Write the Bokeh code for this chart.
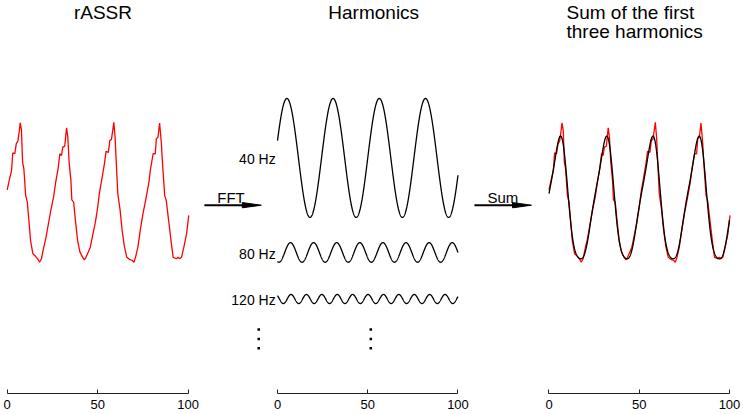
import numpy as np
from bokeh.plotting import figure
from bokeh.layouts import row
from bokeh.models import Range1d, FixedTicker, Label, LinearAxis
from bokeh.embed import file_html
from bokeh.resources import INLINE

# ---------------- data ----------------
# rASSR waveform: sample index and amplitude (arbitrary units)
RASSR_X = [0, 1.3, 2.4, 3.1, 4.2, 5.0, 5.9, 6.7, 7.2, 7.9,
           8.5, 9.2, 10.2, 11.1, 12.0, 12.9, 14.2, 15.7, 17.0, 17.9,
           18.9, 20.0, 21.3, 22.6, 24.1, 25.6, 26.8, 28.1, 29.1, 30.0,
           30.7, 31.8, 32.8, 33.5, 34.2, 35.2, 35.7, 36.7, 37.6, 38.9,
           40.2, 41.7, 42.6, 43.5, 44.8, 45.9, 47.2, 48.7, 50.0, 50.9,
           52.8, 53.7, 54.6, 55.9, 56.7, 57.6, 58.3, 58.9, 59.6, 60.2,
           61.1, 62.4, 63.5, 64.8, 66.1, 67.6, 69.1, 70.0, 70.9, 72.2,
           73.5, 75.0, 76.8, 78.3, 79.2, 80.6, 81.8, 82.4, 83.3, 84.2,
           85.2, 85.7, 87.0, 87.9, 89.4, 90.7, 91.7, 93.5, 94.4, 95.3,
           96.3, 97.6, 99.1, 100.3]
RASSR_V = [0.02, 0.33, 0.57, 1.08, 1.05, 1.33, 1.41, 1.71, 1.93, 1.71,
           0.81, 0.62, -0.14, -0.33, -0.86, -1.43, -1.81, -1.88, -1.97, -2.05,
           -1.95, -1.67, -1.38, -1.00, -0.57, -0.19, 0.24, 0.62, 1.05, 1.00,
           1.24, 1.27, 1.79, 1.52, 0.81, 0.29, -0.27, -0.33, -0.81, -1.43,
           -1.76, -1.91, -1.98, -1.91, -1.76, -1.62, -1.29, -0.91, -0.48, -0.09,
           0.48, 0.76, 1.12, 1.09, 1.43, 1.46, 1.71, 1.95, 1.52, 0.86,
           -0.09, -0.57, -1.14, -1.62, -1.91, -1.97, -2.00, -2.05, -1.91, -1.62,
           -1.14, -0.67, -0.19, 0.24, 0.62, 1.05, 1.05, 1.48, 1.52, 1.93,
           1.33, 0.86, -0.14, -0.29, -0.95, -1.52, -1.91, -1.95, -1.91, -1.95,
           -1.91, -1.62, -1.24, -0.71]

# FFT harmonics of the rASSR (sampling rate in Hz, x axis in samples)
FS = 1024.0
HARM_LABELS = ["40 Hz", "80 Hz", "120 Hz"]
HARM_FREQ = [40, 80, 120]
HARM_AMP = [1.70, 0.28, 0.13]
HARM_CREST = [5.2, 7.2, 7.5]      # sample index of first crest (phase)
DC_LEVEL = -0.42

TICKS = [0, 50, 100]
TITLE_LEFT = "rASSR"
TITLE_MID = "Harmonics"
TITLE_RIGHT = ["Sum of the first", "three harmonics"]

# ---------------- layout / style ----------------
HARM_ROW = [0.93, -1.77, -3.10]     # vertical placement of each harmonic trace
Y_RANGE = (-5.8, 5.4286)
H = 411
FONT = "Liberation Sans"
RED = "#ff0000"
TITLE_Y = [5.09, 4.54]              # title line centres
ARROW_Y = -0.42
ARROW_TEXT_Y = -0.19

t = np.linspace(0, 100, 1201)
harm = [HARM_AMP[i] * np.cos(2 * np.pi * HARM_FREQ[i] * (t - HARM_CREST[i]) / FS)
        for i in range(len(HARM_FREQ))]
summed = DC_LEVEL + sum(harm)


def make_fig(width, xr):
    p = figure(width=width, height=H, x_range=Range1d(*xr), y_range=Range1d(*Y_RANGE),
               output_backend="svg", toolbar_location=None,
               x_axis_location=None, y_axis_location=None,
               min_border_left=0, min_border_right=0, min_border_top=0,
               min_border_bottom=0)
    p.outline_line_color = None
    p.background_fill_color = "white"
    p.border_fill_color = "white"
    for g in p.grid:
        g.visible = False
    ax = LinearAxis(ticker=FixedTicker(ticks=TICKS), bounds=(0, 100))
    ax.axis_line_color = "#222222"
    ax.axis_line_width = 1
    ax.major_tick_line_color = "#222222"
    ax.major_tick_in = 4
    ax.major_tick_out = 0
    ax.minor_tick_line_color = None
    ax.major_label_text_font = FONT
    ax.major_label_text_font_size = "13px"
    ax.major_label_text_color = "black"
    ax.major_label_standoff = 6
    p.add_layout(ax, "below")
    return p


def add_label(p, x, y, text, size, align="left"):
    p.add_layout(Label(x=x, y=y, text=text, text_font=FONT, text_font_size=size,
                       text_align=align, text_baseline="middle",
                       text_color="black"))


def add_arrow(p, x0, x1, y):
    head_len = 10.5
    half_w = 0.075
    p.line([x0, x1 - head_len + 1], [y, y], line_color="black", line_width=2)
    p.patch([x1 - head_len, x1, x1 - head_len], [y + half_w, y, y - half_w],
            fill_color="black", line_color="black", line_width=1)


# ---- left: rASSR ----
p1 = make_fig(203, (-3.70, 108.45))
p1.line(RASSR_X, RASSR_V, line_color=RED, line_width=1.3)
add_label(p1, 52.9, TITLE_Y[0], TITLE_LEFT, "19px", "center")

# ---- middle: harmonics ----
p2 = make_fig(267, (-41.0, 106.93))
for i in range(len(HARM_FREQ)):
    p2.line(t, harm[i] + HARM_ROW[i], line_color="black", line_width=1.3)
    add_label(p2, -1.0, HARM_ROW[i] - 0.04, HARM_LABELS[i], "14px", "right")
add_label(p2, 53.3, TITLE_Y[0], TITLE_MID, "19px", "center")
add_label(p2, -33.4, ARROW_TEXT_Y, "FFT", "15px", "left")
add_arrow(p2, -40.5, -9.0, ARROW_Y)
for dx in (-10.4, 51.7):
    p2.scatter([dx, dx, dx], [-3.97, -4.24, -4.51], size=2.5, marker="square",
               fill_color="black", line_color=None)

# ---- right: sum ----
p3 = make_fig(273, (-43.49, 107.76))
p3.line(RASSR_X, RASSR_V, line_color=RED, line_width=1.3)
p3.line(t, summed, line_color="black", line_width=1.3)
add_label(p3, 9.7, TITLE_Y[0], TITLE_RIGHT[0], "19px", "left")
add_label(p3, 9.7, TITLE_Y[1], TITLE_RIGHT[1], "19px", "left")
add_label(p3, -34.1, ARROW_TEXT_Y, "Sum", "15px", "left")
add_arrow(p3, -41.3, -9.7, ARROW_Y)

layout = row(p1, p2, p3)
open("out.html", "w").write(file_html(layout, INLINE))
